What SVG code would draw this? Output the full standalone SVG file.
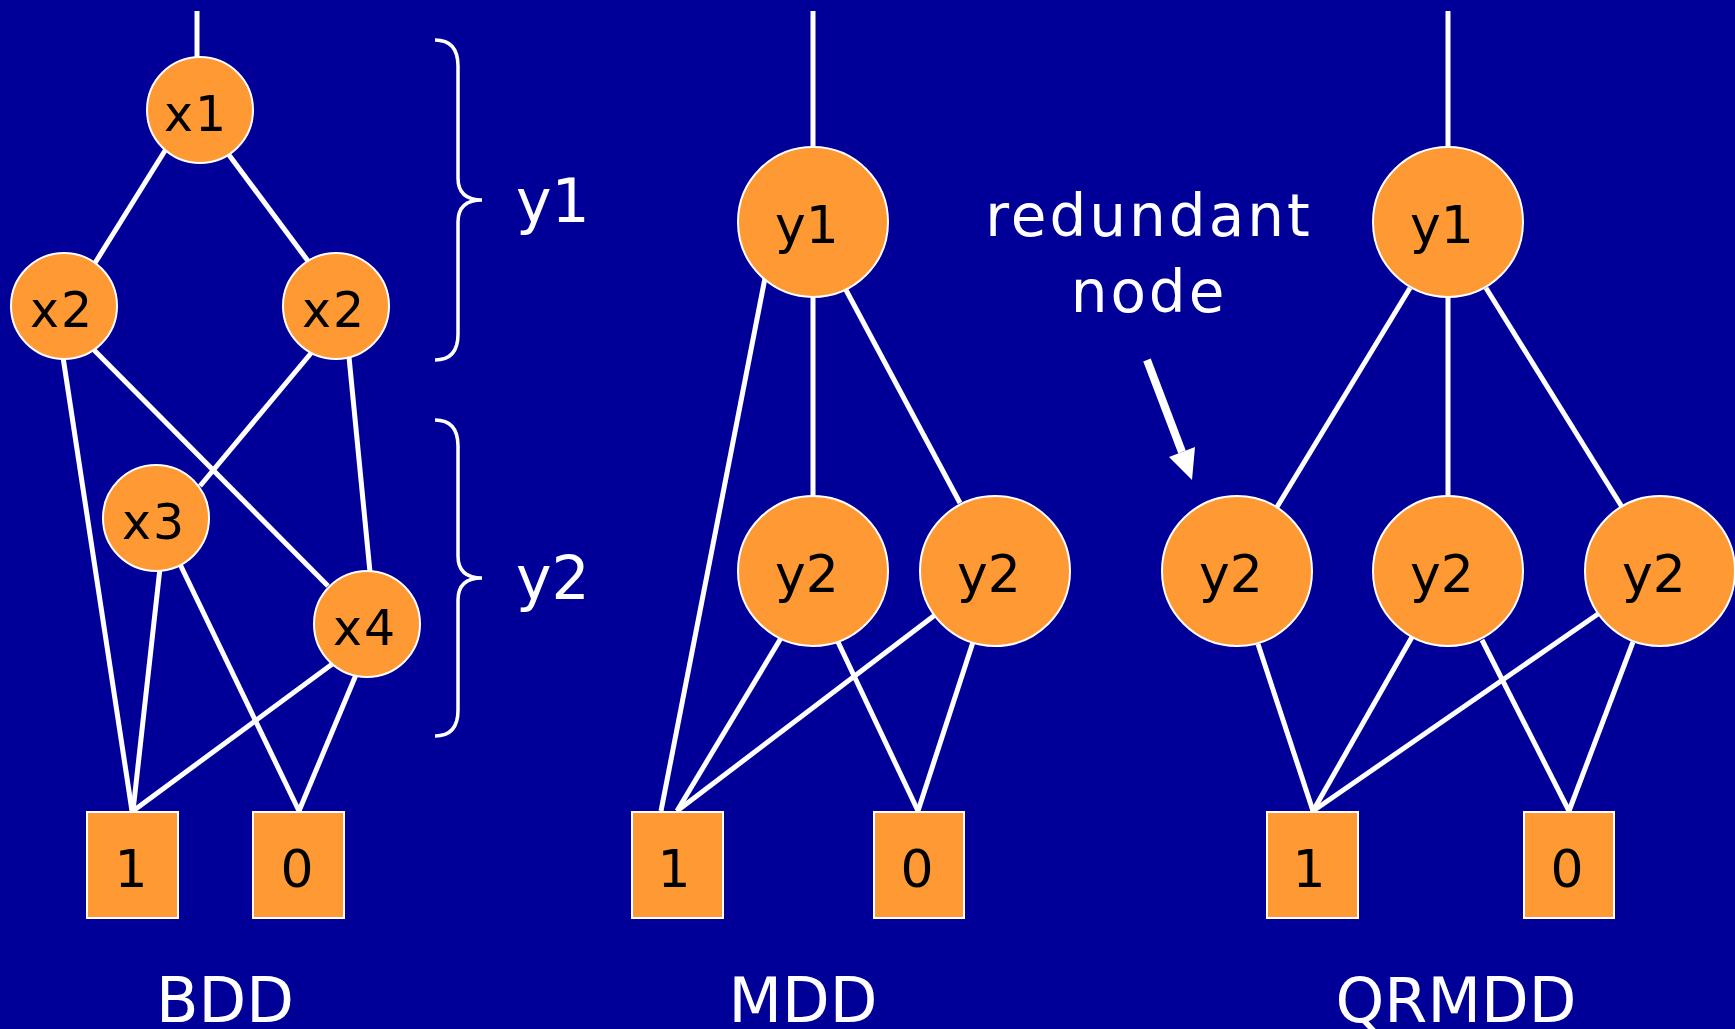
<svg xmlns="http://www.w3.org/2000/svg" width="1735" height="1029" viewBox="0 0 1735 1029">
<style>
.bg{fill:#000099}
.edge{stroke:#fff;stroke-width:5;fill:none;stroke-linecap:butt}
.node{fill:#FF9933;stroke:#fff;stroke-width:2}
.lbl{font-family:"DejaVu Sans","Liberation Sans",sans-serif;fill:#000;text-anchor:middle}
.sm{font-size:49px;letter-spacing:2px}
.lg{font-size:52px}
.bx{font-size:52px}
.wt{font-family:"DejaVu Sans","Liberation Sans",sans-serif;fill:#fff}
.brace{stroke:#fff;stroke-width:3.5;fill:none}
</style>
<rect class="bg" x="0" y="0" width="1735" height="1029"/>

<g id="connectors">
  <!-- BDD -->
  <line class="edge" x1="197" y1="11" x2="197" y2="58"/>
  <line class="edge" x1="166" y1="149" x2="95" y2="263"/>
  <line class="edge" x1="229" y1="155" x2="308" y2="261"/>
  <line class="edge" x1="63" y1="357" x2="132" y2="811"/>
  <line class="edge" x1="94" y1="350" x2="328" y2="586"/>
  <line class="edge" x1="312" y1="352" x2="200" y2="486"/>
  <line class="edge" x1="349" y1="357" x2="370" y2="572"/>
  <line class="edge" x1="160" y1="568" x2="133" y2="811"/>
  <line class="edge" x1="178" y1="560" x2="299" y2="811"/>
  <line class="edge" x1="335" y1="662" x2="133" y2="811"/>
  <line class="edge" x1="358" y1="670" x2="299" y2="811"/>
  <!-- MDD -->
  <line class="edge" x1="813" y1="11" x2="813" y2="147"/>
  <line class="edge" x1="765" y1="278" x2="661" y2="811"/>
  <line class="edge" x1="813" y1="297" x2="813" y2="496"/>
  <line class="edge" x1="846" y1="290" x2="960" y2="503"/>
  <line class="edge" x1="781" y1="638" x2="677" y2="811"/>
  <line class="edge" x1="838" y1="642" x2="918" y2="811"/>
  <line class="edge" x1="935" y1="615" x2="677" y2="811"/>
  <line class="edge" x1="973" y1="642" x2="918" y2="811"/>
  <!-- QRMDD -->
  <line class="edge" x1="1448" y1="11" x2="1448" y2="147"/>
  <line class="edge" x1="1410" y1="288" x2="1277" y2="507"/>
  <line class="edge" x1="1448" y1="297" x2="1448" y2="496"/>
  <line class="edge" x1="1486" y1="288" x2="1622" y2="507"/>
  <line class="edge" x1="1258" y1="644" x2="1313" y2="811"/>
  <line class="edge" x1="1412" y1="637" x2="1313" y2="811"/>
  <line class="edge" x1="1482" y1="640" x2="1569" y2="811"/>
  <line class="edge" x1="1598" y1="614" x2="1313" y2="811"/>
  <line class="edge" x1="1633" y1="642" x2="1569" y2="811"/>
</g>

<!-- BDD nodes -->
<g id="bdd-x1"><circle class="node" cx="200" cy="110" r="53"/><text class="lbl sm" x="196" y="131">x1</text></g>
<g id="bdd-x2a"><circle class="node" cx="64" cy="306" r="53"/><text class="lbl sm" x="62" y="327">x2</text></g>
<g id="bdd-x2b"><circle class="node" cx="336" cy="306" r="53"/><text class="lbl sm" x="334" y="327">x2</text></g>
<g id="bdd-x3"><circle class="node" cx="156" cy="518" r="53"/><text class="lbl sm" x="154" y="539">x3</text></g>
<g id="bdd-x4"><circle class="node" cx="367" cy="624" r="53"/><text class="lbl sm" x="365" y="645">x4</text></g>
<g id="bdd-t1"><rect class="node" x="87" y="812" width="91" height="106"/><text class="lbl bx" x="131" y="887">1</text></g>
<g id="bdd-t0"><rect class="node" x="253" y="812" width="91" height="106"/><text class="lbl bx" x="297" y="887">0</text></g>

<!-- MDD nodes -->
<g id="mdd-y1"><circle class="node" cx="813" cy="222" r="75"/><text class="lbl lg" x="807" y="243">y1</text></g>
<g id="mdd-y2a"><circle class="node" cx="813" cy="571" r="75"/><text class="lbl lg" x="807" y="592">y2</text></g>
<g id="mdd-y2b"><circle class="node" cx="995" cy="571" r="75"/><text class="lbl lg" x="989" y="592">y2</text></g>
<g id="mdd-t1"><rect class="node" x="632" y="812" width="91" height="106"/><text class="lbl bx" x="674" y="887">1</text></g>
<g id="mdd-t0"><rect class="node" x="874" y="812" width="90" height="106"/><text class="lbl bx" x="917" y="887">0</text></g>

<!-- QRMDD nodes -->
<g id="qr-y1"><circle class="node" cx="1448" cy="222" r="75"/><text class="lbl lg" x="1442" y="243">y1</text></g>
<g id="qr-y2a"><circle class="node" cx="1237" cy="571" r="75"/><text class="lbl lg" x="1231" y="592">y2</text></g>
<g id="qr-y2b"><circle class="node" cx="1448" cy="571" r="75"/><text class="lbl lg" x="1442" y="592">y2</text></g>
<g id="qr-y2c"><circle class="node" cx="1660" cy="571" r="75"/><text class="lbl lg" x="1654" y="592">y2</text></g>
<g id="qr-t1"><rect class="node" x="1267" y="812" width="91" height="106"/><text class="lbl bx" x="1309" y="887">1</text></g>
<g id="qr-t0"><rect class="node" x="1524" y="812" width="90" height="106"/><text class="lbl bx" x="1567" y="887">0</text></g>

<!-- braces -->
<g id="brace-y1">
  <path class="brace" d="M435,40 Q458,40 458,66 L458,178 Q458,200 482,200 Q458,200 458,222 L458,334 Q458,360 435,360"/>
  <text class="wt" x="516" y="222" font-size="60">y1</text>
</g>
<g id="brace-y2">
  <path class="brace" d="M435,420 Q458,420 458,446 L458,556 Q458,578 482,578 Q458,578 458,600 L458,710 Q458,736 435,736"/>
  <text class="wt" x="516" y="599" font-size="60">y2</text>
</g>

<!-- annotation -->
<g id="annotation">
  <text class="wt" x="1149" y="236" font-size="58" text-anchor="middle" letter-spacing="3">redundant</text>
  <text class="wt" x="1149" y="312" font-size="58" text-anchor="middle" letter-spacing="3">node</text>
  <line x1="1147" y1="360" x2="1182" y2="452" stroke="#fff" stroke-width="8"/>
  <polygon points="1192,480 1195,447 1169,457" fill="#fff"/>
</g>

<!-- titles -->
<text class="wt" x="225" y="1022" font-size="62" text-anchor="middle">BDD</text>
<text class="wt" x="803" y="1022" font-size="62" text-anchor="middle">MDD</text>
<text class="wt" x="1456" y="1022" font-size="62" text-anchor="middle">QRMDD</text>
</svg>
